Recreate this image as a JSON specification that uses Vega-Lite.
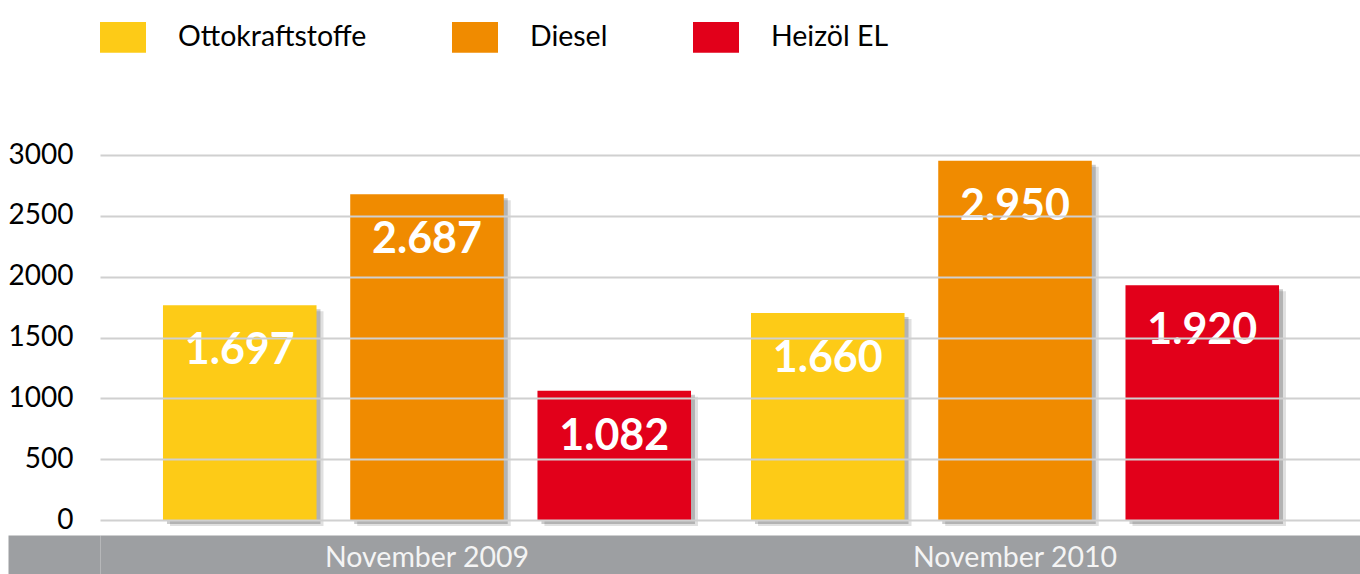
{
  "$schema": "https://vega.github.io/schema/vega-lite/v6.json",
  "autosize": "none",
  "width": 1260,
  "height": 365,
  "padding": {"left": 100, "top": 155, "right": 0, "bottom": 54},
  "background": "white",
  "config": {"font": "Lato", "view": {"stroke": null}},
  "data": {"values": [
    {"period": "November 2009", "fuel": "Ottokraftstoffe", "value": 1765, "label": "1.697"},
    {"period": "November 2009", "fuel": "Diesel", "value": 2677, "label": "2.687"},
    {"period": "November 2009", "fuel": "Heizöl EL", "value": 1063, "label": "1.082"},
    {"period": "November 2010", "fuel": "Ottokraftstoffe", "value": 1702, "label": "1.660"},
    {"period": "November 2010", "fuel": "Diesel", "value": 2953, "label": "2.950"},
    {"period": "November 2010", "fuel": "Heizöl EL", "value": 1930, "label": "1.920"}
  ]},
  "layer": [
    {
      "mark": {"type": "bar", "color": "#000000", "opacity": 0.12, "yOffset": 6},
      "encoding": {
        "x": {"field": "period", "type": "nominal", "scale": {"domain": ["November 2009", "November 2010"], "paddingInner": 0.102, "paddingOuter": 0.1224, "align": 0.4375}, "axis": null},
        "xOffset": {"field": "fuel", "type": "nominal", "scale": {"domain": ["Ottokraftstoffe", "Diesel", "Heizöl EL"], "paddingInner": 0.18, "paddingOuter": 0, "range": [7, 535]}},
        "y": {"field": "value", "type": "quantitative", "scale": {"domain": [0, 3000], "nice": false}, "axis": null}
      }
    },
    {
      "mark": {"type": "bar", "color": "#000000", "opacity": 0.2, "yOffset": 4},
      "encoding": {
        "x": {"field": "period", "type": "nominal", "axis": null},
        "xOffset": {"field": "fuel", "type": "nominal", "scale": {"domain": ["Ottokraftstoffe", "Diesel", "Heizöl EL"], "paddingInner": 0.18, "paddingOuter": 0, "range": [4, 532]}},
        "y": {"field": "value", "type": "quantitative", "axis": null}
      }
    },
    {
      "mark": {"type": "bar"},
      "encoding": {
        "x": {"field": "period", "type": "nominal", "axis": {"title": null, "orient": "bottom", "offset": 34.5, "domain": true, "domainColor": "#9d9fa2", "domainWidth": 39, "ticks": false, "labels": false, "zindex": 0}},
        "xOffset": {"field": "fuel", "type": "nominal", "scale": {"domain": ["Ottokraftstoffe", "Diesel", "Heizöl EL"], "paddingInner": 0.18, "paddingOuter": 0}},
        "y": {
          "field": "value", "type": "quantitative",
          "axis": {"title": null, "orient": "left", "values": [0, 500, 1000, 1500, 2000, 2500, 3000], "format": "d", "grid": true, "gridColor": "#d0d0d0", "gridWidth": 2, "domain": false, "ticks": false, "tickSize": 0, "labelPadding": 27, "labelFontSize": 28, "labelColor": "#000000", "labelFont": "Lato", "zindex": 1}
        },
        "color": {
          "field": "fuel", "type": "nominal",
          "scale": {"domain": ["Ottokraftstoffe", "Diesel", "Heizöl EL"], "range": ["#fdcb17", "#f08b00", "#e2001a"]},
          "legend": {"title": null, "orient": "none", "legendX": 0, "legendY": -141, "direction": "horizontal", "symbolType": "M-1,-0.67H1V0.67H-1Z", "symbolSize": 2116, "symbolStrokeWidth": 0, "symbolOpacity": 1, "labelFontSize": 28.5, "labelFont": "Lato", "labelColor": "#000000", "labelOffset": 32, "columnPadding": 85, "labelLimit": 0}
        }
      }
    },
    {
      "mark": {"type": "text", "color": "white", "fontSize": 43, "fontWeight": "bold", "baseline": "middle", "align": "center", "dy": 46},
      "encoding": {
        "x": {"field": "period", "type": "nominal", "axis": {"title": null, "orient": "bottom", "offset": 34.5, "domain": false, "ticks": false, "tickSize": 0, "labelAngle": 0, "labelFontSize": 28.5, "labelColor": "#f4f4f4", "labelBaseline": "middle", "labelPadding": 3, "labelFont": "Lato", "labelLimit": 0, "zindex": 2}},
        "xOffset": {"field": "fuel", "type": "nominal", "bandPosition": 0.5, "scale": {"type": "band", "domain": ["Ottokraftstoffe", "Diesel", "Heizöl EL"], "paddingInner": 0.18, "paddingOuter": 0}},
        "y": {
          "field": "value", "type": "quantitative",
          "axis": {"title": null, "orient": "left", "values": [0], "grid": false, "domain": false, "labels": false, "ticks": true, "tickSize": 92, "tickWidth": 39, "tickColor": "#9d9fa2", "tickOffset": 34.5, "tickRound": false}
        },
        "text": {"field": "label"}
      }
    }
  ],
  "resolve": {"axis": {"y": "independent", "x": "independent"}, "scale": {"xOffset": "independent"}}
}
